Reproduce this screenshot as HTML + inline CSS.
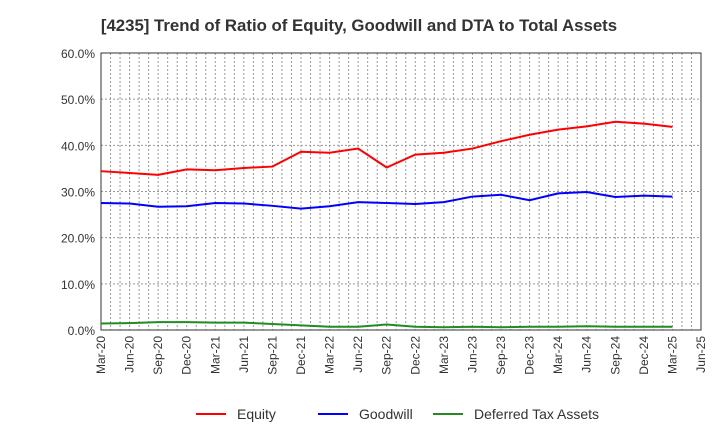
<!DOCTYPE html>
<html><head><meta charset="utf-8"><style>
body{margin:0;background:#fff;font-family:"Liberation Sans",sans-serif}
</style></head><body>
<svg id="c" width="720" height="440" xmlns="http://www.w3.org/2000/svg">
<text x="359" y="31" text-anchor="middle" font-size="16.8" font-weight="bold" fill="#333">[4235]  Trend of Ratio of Equity, Goodwill and DTA to Total Assets</text>
<g id="grid"></g><g id="axes"></g><g id="series"></g><g id="legend"></g>
</svg>
<script>
const categories=["Mar-20","Jun-20","Sep-20","Dec-20","Mar-21","Jun-21","Sep-21","Dec-21","Mar-22","Jun-22","Sep-22","Dec-22","Mar-23","Jun-23","Sep-23","Dec-23","Mar-24","Jun-24","Sep-24","Dec-24","Mar-25","Jun-25"];
const equity=[34.4,34.0,33.6,34.8,34.6,35.1,35.4,38.6,38.4,39.3,35.2,38.0,38.4,39.3,40.9,42.3,43.4,44.1,45.1,44.7,44.0];
const goodwill=[27.5,27.4,26.7,26.8,27.5,27.4,26.9,26.3,26.8,27.7,27.5,27.3,27.7,28.9,29.3,28.1,29.6,29.9,28.8,29.1,28.9];
const dta=[1.4,1.5,1.7,1.7,1.6,1.6,1.3,1.0,0.7,0.7,1.2,0.7,0.6,0.7,0.6,0.7,0.7,0.8,0.7,0.7,0.7];
const yTicks=[0,10,20,30,40,50,60];
const NS="http://www.w3.org/2000/svg";
const L=101,R=701,T=53,B=330;
const x=i=>L+i*(R-L)/(categories.length-1);
const y=v=>B-(v/60)*(B-T);
function mk(p,t,a){const e=document.createElementNS(NS,t);for(const k in a)e.setAttribute(k,a[k]);document.getElementById(p).appendChild(e);return e;}
for(let m=0;m<=(categories.length-1)*3;m++){
 const xx=L+m*(R-L)/((categories.length-1)*3);
 const g=mk("grid","line",{x1:xx,x2:xx,y1:T,y2:B,stroke:"#999","stroke-dasharray":"2,2","stroke-width":1});
 
 
}
yTicks.forEach(v=>{
 const g=mk("grid","line",{x1:L,x2:R,y1:y(v),y2:y(v),stroke:"#999","stroke-dasharray":"2,2"});
 
 
 const t=mk("axes","text",{x:L-6,y:y(v)+5,"text-anchor":"end","font-size":12,fill:"#333"});
 t.textContent=v.toFixed(1)+"%";
 
 
});
const fr=mk("axes","rect",{x:L,y:T,width:R-L,height:B-T,fill:"none",stroke:"#333"});


categories.forEach((c,i)=>{
 const t=mk("axes","text",{transform:`translate(${x(i)+4},${B+6}) rotate(-90)`,"text-anchor":"end","font-size":12,fill:"#333"});
 t.textContent=c;
 
 
});
[[equity,"#ff0000","Equity","equity-line"],[goodwill,"#0000ff","Goodwill","goodwill-line"],[dta,"#228b22","Deferred Tax Assets","dta-line"]].forEach(([d,col,lab,nm],k)=>{
 const p=mk("series","polyline",{points:d.map((v,i)=>x(i)+","+y(v)).join(" "),fill:"none",stroke:col,"stroke-width":2});
 
 
 const lx=[196,318,433][k];
 const ln=mk("legend","line",{x1:lx,x2:lx+30,y1:414,y2:414,stroke:col,"stroke-width":2});
 
 
 const t=mk("legend","text",{x:lx+41,y:419,"font-size":14,fill:"#333"});
 t.textContent=lab;
 
 
});
</script>
</body></html>
